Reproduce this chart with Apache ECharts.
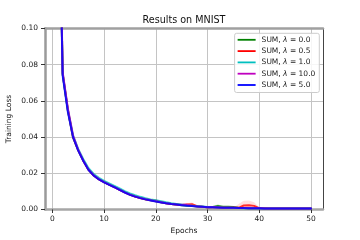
<!DOCTYPE html>
<html><head><meta charset="utf-8">
<script src="https://cdn.jsdelivr.net/npm/echarts@6/dist/echarts.min.js"></script>
<style>html,body{margin:0;padding:0;background:#fff}#c{width:360px;height:240px}</style>
</head><body><div id="c"></div>
<script>
var epochs = [1,2,3,4,5,6,7,8,9,10,11,12,13,14,15,16,17,18,19,20,21,22,23,24,25,26,27,28,29,30,31,32,33,34,35,36,37,38,39,40,41,42,43,44,45,46,47,48,49,50];
var seriesNames = ['SUM, λ = 0.0','SUM, λ = 0.5','SUM, λ = 1.0','SUM, λ = 10.0','SUM, λ = 5.0'];
var seriesColors = ['#008000','#ff0000','#00bfbf','#bf00bf','#0000ff'];
var lossL00 = [0.23,0.075,0.055,0.040,0.0328,0.0270,0.0221,0.0189,0.0168,0.0152,0.0138,0.0125,0.0110,0.0096,0.0083,0.0073,0.0064,0.0057,0.0051,0.0045,0.0040,0.0035,0.0031,0.0028,0.0024,0.0021,0.0019,0.0017,0.0015,0.0013,0.0014,0.0019,0.0015,0.0015,0.0014,0.0010,0.0008,0.0007,0.0007,0.0007,0.0006,0.0006,0.0006,0.0006,0.0005,0.0005,0.0005,0.0005,0.0005,0.0005];
var lossL05 = [0.23,0.075,0.055,0.040,0.0328,0.0270,0.0220,0.0188,0.0167,0.0151,0.0137,0.0124,0.0109,0.0095,0.0082,0.0072,0.0064,0.0057,0.0052,0.0050,0.0041,0.0035,0.0031,0.0028,0.0025,0.0027,0.0029,0.0018,0.0015,0.0013,0.0012,0.0011,0.0010,0.0009,0.0009,0.0009,0.0022,0.0023,0.0020,0.0008,0.0007,0.0006,0.0006,0.0006,0.0005,0.0005,0.0005,0.0005,0.0005,0.0005];
var lossL10 = [0.23,0.075,0.055,0.041,0.0335,0.0278,0.0228,0.0196,0.0175,0.0158,0.0144,0.0130,0.0116,0.0102,0.0089,0.0079,0.0070,0.0062,0.0056,0.0051,0.0046,0.0040,0.0035,0.0031,0.0027,0.0024,0.0021,0.0018,0.0016,0.0014,0.0012,0.0011,0.0010,0.0009,0.0008,0.0008,0.0007,0.0007,0.0007,0.0006,0.0006,0.0006,0.0006,0.0005,0.0005,0.0005,0.0005,0.0005,0.0005,0.0005];
var lossL100 = [0.24,0.076,0.056,0.041,0.0330,0.0270,0.0220,0.0189,0.0168,0.0151,0.0137,0.0124,0.0109,0.0095,0.0082,0.0072,0.0064,0.0057,0.0051,0.0045,0.0040,0.0035,0.0031,0.0028,0.0026,0.0026,0.0020,0.0017,0.0015,0.0013,0.0012,0.0011,0.0010,0.0009,0.0009,0.0008,0.0008,0.0007,0.0007,0.0007,0.0006,0.0006,0.0006,0.0006,0.0005,0.0005,0.0005,0.0005,0.0005,0.0005];
var lossL50 = [0.22,0.074,0.054,0.040,0.0325,0.0268,0.0218,0.0187,0.0166,0.0150,0.0136,0.0123,0.0108,0.0094,0.0081,0.0071,0.0063,0.0056,0.0050,0.0044,0.0039,0.0034,0.0030,0.0027,0.0024,0.0021,0.0019,0.0017,0.0015,0.0013,0.0012,0.0011,0.0010,0.0009,0.0009,0.0008,0.0008,0.0007,0.0007,0.0007,0.0006,0.0006,0.0006,0.0006,0.0005,0.0005,0.0005,0.0005,0.0005,0.0005];
var seriesValues = [lossL00, lossL05, lossL10, lossL100, lossL50];
// shaded spread regions (epoch, low, high)
var bandRedA = [[25,0.0025,0.0025],[26,0.0021,0.0034],[27,0.0020,0.0038],[28,0.0018,0.0018]];
var bandRedB = [[35,0.0009,0.0009],[36,0.0008,0.0030],[37,0.0008,0.0048],[38,0.0006,0.0050],[39,0.0006,0.0040],[40,0.0006,0.0012],[41,0.0007,0.0007]];
var bandGreen = [[31,0.0014,0.0014],[32,0.0012,0.0030],[33,0.0015,0.0015]];
var xTicks = [0,10,20,30,40,50];
var yTicks = [0,0.02,0.04,0.06,0.08,0.10];

var FONT = 'DejaVu Sans';
var chart = echarts.init(document.getElementById('c'), null, {renderer:'canvas'});

function bandSeries(band, color){
  return {
    type:'custom', xAxisIndex:0, yAxisIndex:0, silent:true, z:1, clip:true,
    data: band,
    renderItem: function(params, api){
      var i = params.dataIndex;
      if (i >= band.length-1) return null;
      var a = band[i], b = band[i+1];
      var pts = [api.coord([a[0],a[2]]), api.coord([b[0],b[2]]), api.coord([b[0],b[1]]), api.coord([a[0],a[1]])];
      return {type:'polygon', shape:{points:pts}, style:{fill:color, stroke:null}};
    }
  };
}

var series = [
  bandSeries(bandRedA,'rgba(255,0,0,0.13)'),
  bandSeries(bandRedB,'rgba(255,0,0,0.13)'),
  bandSeries(bandGreen,'rgba(0,128,0,0.13)')
];
seriesNames.forEach(function(n, k){
  series.push({
    name:n, type:'line', xAxisIndex:0, yAxisIndex:0, z:2+k,
    data: epochs.map(function(e,i){return [e, seriesValues[k][i]];}),
    showSymbol:false, symbol:'none', smooth:false, clip:true,
    color: seriesColors[k],
    lineStyle:{width:2, color:seriesColors[k], opacity:0.8, join:'round', cap:'round'},
    emphasis:{disabled:true}
  });
});

var option = {
  animation:false,
  textStyle:{fontFamily:FONT},
  grid:[
    {left:52.3, right:49, top:28.5, bottom:30.5},
    {left:45, right:37, top:28.5, bottom:30.5}
  ],
  xAxis:[
    {type:'value', gridIndex:0, min:0, max:50, interval:10,
     axisLine:{show:false},
     axisTick:{show:true, length:3.5, lineStyle:{color:'#333', width:1}},
     axisLabel:{show:true, margin:5.5, fontSize:7.5, color:'#1a1a1a', fontFamily:FONT},
     splitLine:{show:true, lineStyle:{color:'#c4c4c4', width:1}}},
    {type:'value', gridIndex:1, min:0, max:1, position:'bottom',
     axisLine:{show:true, onZero:false, lineStyle:{color:'#a6a6a6', width:2.5}},
     axisTick:{show:false}, axisLabel:{show:false}, splitLine:{show:false}},
    {type:'value', gridIndex:1, min:0, max:1, position:'top',
     axisLine:{show:true, onZero:false, lineStyle:{color:'#a0a0a0', width:2.5}},
     axisTick:{show:false}, axisLabel:{show:false}, splitLine:{show:false}}
  ],
  yAxis:[
    {type:'value', gridIndex:0, min:0, max:0.1, show:false},
    {type:'value', gridIndex:1, min:0, max:0.1, interval:0.02, position:'left',
     axisLine:{show:true, onZero:false, lineStyle:{color:'#9a9a9a', width:2.5}},
     axisTick:{show:true, length:4, lineStyle:{color:'#333', width:1}},
     axisLabel:{show:true, margin:7, fontSize:7.5, color:'#1a1a1a', fontFamily:FONT,
       formatter:function(v){return v.toFixed(2);}},
     splitLine:{show:true, lineStyle:{color:'#c4c4c4', width:1}}},
    {type:'value', gridIndex:1, min:0, max:0.1, position:'right',
     axisLine:{show:true, onZero:false, lineStyle:{color:'#444', width:1}},
     axisTick:{show:false}, axisLabel:{show:false}, splitLine:{show:false}}
  ],
  legend:{
    data: seriesNames,
    orient:'vertical', right:40.7, top:33.3,
    itemWidth:18, itemHeight:9, itemGap:3.3,
    padding:[2.5,4,3.5,3],
    backgroundColor:'rgba(255,255,255,0.85)', borderColor:'#cccccc', borderWidth:1, borderRadius:2,
    icon:'path://M0,4 L18,4 L18,5.8 L0,5.8 Z',
    selectedMode:false,
    textStyle:{fontFamily:FONT, fontSize:7.5, color:'#1a1a1a', padding:[0,0,0,1],
      rich:{a:{fontFamily:FONT, fontSize:7.5, color:'#1a1a1a'}, b:{fontFamily:FONT, fontSize:7.5, color:'#1a1a1a', fontStyle:'italic'}}},
    formatter:function(n){
      var parts = n.split('λ');
      return '{a|'+parts[0]+'}{b|λ}{a|'+parts[1]+'}';
    }
  },
  graphic:[
    {type:'text', x:184, y:20, style:{text:'Results on MNIST', font:'9.6px "DejaVu Sans"', fill:'#111', align:'center', verticalAlign:'middle'}},
    {type:'text', x:184, y:231, style:{text:'Epochs', font:'7.5px "DejaVu Sans"', fill:'#111', align:'center', verticalAlign:'middle'}},
    {type:'text', x:9.5, y:119, rotation:Math.PI/2, style:{text:'Training Loss', font:'7.5px "DejaVu Sans"', fill:'#111', align:'center', verticalAlign:'middle'}}
  ],
  series: series
};
chart.setOption(option);
</script></body></html>
